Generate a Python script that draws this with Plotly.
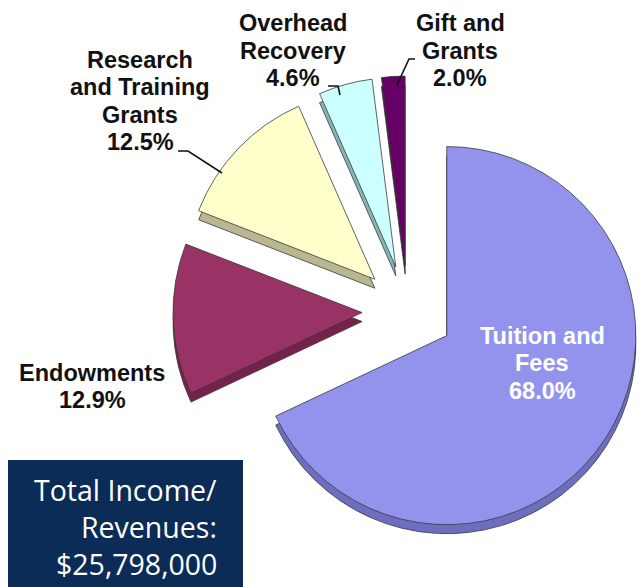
import plotly.graph_objects as go

# ---- data ----
categories = ["Tuition and Fees", "Endowments", "Research and Training Grants",
              "Overhead Recovery", "Gift and Grants"]
shares = [68.0, 12.9, 12.5, 4.6, 2.0]
label_lines = [["Tuition and", "Fees", "68.0%"],
               ["Endowments", "12.9%"],
               ["Research", "and Training", "Grants", "12.5%"],
               ["Overhead", "Recovery", "4.6%"],
               ["Gift and", "Grants", "2.0%"]]
total_lines = ["Total Income/", "Revenues:", "$25,798,000"]

# ---- style ----
W, H = 643, 587
top_colors = ["#9393EE", "#993366", "#FFFFCC", "#CCFFFF", "#660066"]
side_colors = ["#6E6EC0", "#74224C", "#B9B791", "#86B5B5", "#440044"]
label_pos = [(542, 336, "white"), (92, 373, "#111111"), (140, 60, "#111111"),
             (293, 23.5, "#111111"), (460, 23.5, "#111111")]
LINE_GAP = 27.3
pull = 0.243
depth = 9  # px of fake 3D thickness


def px(x):
    return x / W


def py(y):
    return 1 - y / H


dom_x = [px(173), 1.0]
cy = 311
half = (W - 173) / 2


def dom_y(shift):
    return [py(cy + half + shift), py(cy - half + shift)]


fig = go.Figure()
# side (thickness) layer
fig.add_trace(go.Pie(
    labels=categories, values=shares, sort=False, direction="clockwise",
    rotation=0, pull=[pull] * len(shares), textinfo="none", hoverinfo="skip",
    marker=dict(colors=side_colors, line=dict(color="#3a3a3a", width=0.8)),
    domain=dict(x=dom_x, y=dom_y(depth)), showlegend=False))
# top surface
fig.add_trace(go.Pie(
    labels=categories, values=shares, sort=False, direction="clockwise",
    rotation=0, pull=[pull] * len(shares), textinfo="none", hoverinfo="skip",
    marker=dict(colors=top_colors, line=dict(color="#3a3a3a", width=0.8)),
    domain=dict(x=dom_x, y=dom_y(0)), showlegend=False))

annotations = []
for lines, (lx, ly, col) in zip(label_lines, label_pos):
    for i, t in enumerate(lines):
        annotations.append(dict(
            x=px(lx), y=py(ly + i * LINE_GAP), xref="paper", yref="paper",
            text=t, showarrow=False, xanchor="center", yanchor="middle",
            font=dict(family="Liberation Sans, Arial", size=23.5, color=col, weight="bold")))

for i, t in enumerate(total_lines):
    annotations.append(dict(
        x=px(219), y=py(490 + i * 37), xref="paper", yref="paper",
        text=t, showarrow=False, xanchor="right", yanchor="middle",
        font=dict(family="Open Sans", size=28.5, color="white", weight=400)))

connectors = [
    [(178, 151), (188, 151), (222, 173)],
    [(328, 86), (338, 86), (340, 95)],
    [(415, 59), (409, 59), (397, 85)],
]
shapes = [dict(type="rect", xref="paper", yref="paper",
               x0=px(8), x1=px(243), y0=py(H), y1=py(460),
               fillcolor="#0B2C56", line=dict(width=0), layer="below")]
for seg in connectors:
    path = "M " + " L ".join(f"{px(x)},{py(y)}" for x, y in seg)
    shapes.append(dict(type="path", xref="paper", yref="paper", path=path,
                       line=dict(color="#111111", width=1.6)))

fig.update_layout(
    width=W, height=H, margin=dict(l=0, r=0, t=0, b=0),
    paper_bgcolor="white", plot_bgcolor="white",
    annotations=annotations, shapes=shapes, showlegend=False)

fig.write_html("out.html", config={"displayModeBar": False},
               post_script="document.body.style.margin='0';")
